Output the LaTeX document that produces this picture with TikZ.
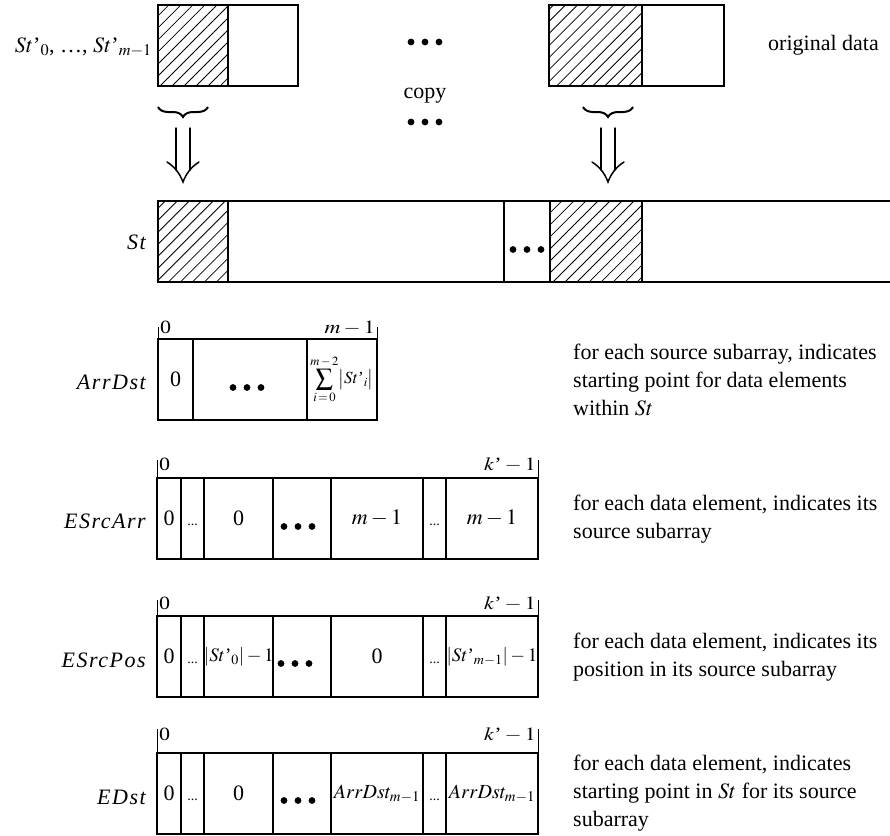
\documentclass[tikz,border=0pt]{standalone}
\usepackage{mathptmx}
\usepackage{fontspec}
\setmainfont{Liberation Serif}
\usepackage{graphicx}
\usetikzlibrary{patterns.meta,calc,decorations.pathreplacing}

% St followed by a text apostrophe, so a subscript sits after it
\newcommand{\stp}{St\mbox{'}}
% small ellipsis sitting on the baseline of the surrounding cell text
\newcommand{\celldots}{\vphantom{0}{\fontsize{14}{14}\selectfont...}}
% index labels above the arrays are set slightly squat
\newcommand{\idxtext}[1]{\scalebox{1}[0.85]{#1}}
% letter-spaced italic array names
\newcommand{\arrname}[1]{{\itshape\addfontfeature{LetterSpace=7}#1}}
% three large dots centred on a point
\newcommand{\bigdots}[1]{\foreach \dx in {-14,0,14} {\fill ($(#1)+(\dx,0)$) circle (3.4pt);}}
% a long double down-arrow between two coordinates
\newcommand{\downdouble}[2]{%
  \draw[arrowline] ($(#1)+(-7,0)$) -- ($(#2)+(-7,-12)$);
  \draw[arrowline] ($(#1)+(7,0)$) -- ($(#2)+(7,-12)$);
  \draw[arrowline] ($(#2)+(-16,-20)$) .. controls ($(#2)+(-8,-15)$) and ($(#2)+(-3,-8)$) .. (#2)
     .. controls ($(#2)+(3,-8)$) and ($(#2)+(8,-15)$) .. ($(#2)+(16,-20)$);}

\begin{document}
\begin{tikzpicture}[x=1pt,y=-1pt,
  every node/.style={font=\fontsize{22}{28}\selectfont},
  cell/.style={draw, line width=1.4pt, anchor=north west, minimum height=81pt,
    inner sep=0pt, outer sep=0pt, font=\fontsize{22}{24}\selectfont},
  hatched/.style={cell, pattern={Lines[angle=45,distance=8.5pt,line width=0.8pt]}},
  rowline/.style={line width=1.4pt},
  tag/.style={anchor=east, inner sep=0pt},
  note/.style={anchor=west, align=left, inner sep=0pt},
  idx/.style={inner sep=0pt, font=\fontsize{22}{22}\selectfont},
  tick/.style={line width=1pt},
  arrowline/.style={line width=1.5pt, line cap=round},
  underbr/.style={decorate, decoration={brace, amplitude=10pt}, line width=2pt},
]
\useasboundingbox (0,0) rectangle (890,835);

% ---- original data -------------------------------------------------
\node[hatched, minimum width=70pt] (o1h) at (158,5) {};
\node[cell, minimum width=70pt] (o1w) at (228,5) {};
\node[hatched, minimum width=93pt] (o2h) at (549,5) {};
\node[cell, minimum width=82pt] (o2w) at (642,5) {};
\node[tag] (lorig) at (152,47) {$\stp_{0}$, \ldots, $\stp_{m-1}$};
\node[note] (norig) at (768,45) {original data};
\coordinate (d1) at (425,42);
\bigdots{d1}
\node (copy) at (425,96) {copy};
\coordinate (d2) at (425,122);
\bigdots{d2}

% braces and copy arrows
\coordinate (bl1) at (208,107); \coordinate (bl2) at (158,107);
\coordinate (br1) at (633,107); \coordinate (br2) at (583,107);
\draw[underbr] (bl1) -- (bl2);
\draw[underbr] (br1) -- (br2);
\coordinate (al1) at (183,128); \coordinate (al2) at (183,182);
\coordinate (ar1) at (608,128); \coordinate (ar2) at (608,182);
\downdouble{al1}{al2}
\downdouble{ar1}{ar2}

% ---- St --------------------------------------------------------------
\node[hatched, minimum width=70pt] (s1) at (158,201) {};
\node[cell, minimum width=276pt] (s2) at (228,201) {};
\node[cell, minimum width=46pt] (s3) at (504,201) {};
\node[hatched, minimum width=92pt] (s4) at (550,201) {};
\coordinate (sendt) at (893,201);
\coordinate (sendb) at (893,282);
\draw[rowline] (s4.north east) -- (sendt);
\draw[rowline] (s4.south east) -- (sendb);
\coordinate (s3d) at ($(s3.center)+(0,8)$);
\bigdots{s3d}
\node[tag] (lst) at (146,242) {\arrname{St}};

% ---- ArrDst ------------------------------------------------------------
\node[cell, minimum width=35pt] (a1) at (158,339) {0};
\node[cell, minimum width=114pt] (a2) at (193,339) {};
\node[cell, minimum width=70pt, font=\fontsize{17}{20}\selectfont] (a3) at (307,339)
  {$\displaystyle\sum_{i\,=\,0}^{m\,-\,2}\bigl|\stp_{i}\bigr|$};
\coordinate (a2d) at ($(a2.center)+(-3,8)$);
\bigdots{a2d}
\draw[tick] (a1.north west) -- ++(0,-12);
\draw[tick] (a3.north east) -- ++(0,-12);
\node[idx, anchor=base west] (a0i) at ($(a1.north west)+(2,-6)$) {\idxtext{0}};
\node[idx, anchor=base east] (ani) at ($(a3.north east)+(-2,-6)$) {\idxtext{$m-1$}};
\node[tag] (larr) at (146,382) {\arrname{ArrDst}};
\node[note] (narr) at (573,380) {for each source subarray, indicates\\starting point for data elements\\within $St$};

% ---- ESrcArr -----------------------------------------------------------
\node[cell, minimum width=24pt] (e1) at (157,478) {0};
\node[cell, minimum width=23pt] (e2) at (181,478) {\celldots};
\node[cell, minimum width=69pt] (e3) at (204,478) {0};
\node[cell, minimum width=58pt] (e4) at (273,478) {};
\node[cell, minimum width=92pt] (e5) at (331,478) {$m-1$};
\node[cell, minimum width=23pt] (e6) at (423,478) {\celldots};
\node[cell, minimum width=92pt] (e7) at (446,478) {$m-1$};
\coordinate (e4d) at ($(e4.center)+(-4,8)$);
\bigdots{e4d}
\draw[tick] (e1.north west) -- ++(0,-18);
\draw[tick] (e7.north east) -- ++(0,-18);
\node[idx, anchor=base west] (e0i) at ($(e1.north west)+(2,-8)$) {\idxtext{0}};
\node[idx, anchor=base east] (eki) at ($(e7.north east)+(-2,-8)$) {\idxtext{$k\mbox{'}-1$}};
\node[tag] (lesa) at (146,521) {\arrname{ESrcArr}};
\node[note] (nesa) at (573,519) {for each data element, indicates its\\source subarray};

% ---- ESrcPos -----------------------------------------------------------
\node[cell, minimum width=24pt] (p1) at (157,616) {0};
\node[cell, minimum width=23pt] (p2) at (181,616) {\celldots};
\node[cell, minimum width=69pt, font=\fontsize{19}{22}\selectfont] (p3) at (204,616) {$|\stp_{0}|-1$};
\node[cell, minimum width=58pt] (p4) at (273,616) {};
\node[cell, minimum width=92pt] (p5) at (331,616) {0};
\node[cell, minimum width=23pt] (p6) at (423,616) {\celldots};
\node[cell, minimum width=92pt, font=\fontsize{19}{22}\selectfont] (p7) at (446,616) {$|\stp_{m-1}|-1$};
\coordinate (p4d) at ($(p4.center)+(-7,7)$);
\bigdots{p4d}
\draw[tick] (p1.north west) -- ++(0,-16);
\draw[tick] (p7.north east) -- ++(0,-16);
\node[idx, anchor=base west] (p0i) at ($(p1.north west)+(2,-7)$) {\idxtext{0}};
\node[idx, anchor=base east] (pki) at ($(p7.north east)+(-2,-7)$) {\idxtext{$k\mbox{'}-1$}};
\node[tag] (lesp) at (146,660) {\arrname{ESrcPos}};
\node[note] (nesp) at (573,657) {for each data element, indicates its\\position in its source subarray};

% ---- EDst --------------------------------------------------------------
\node[cell, minimum width=24pt] (q1) at (157,753) {0};
\node[cell, minimum width=23pt] (q2) at (181,753) {\celldots};
\node[cell, minimum width=69pt] (q3) at (204,753) {0};
\node[cell, minimum width=58pt] (q4) at (273,753) {};
\node[cell, minimum width=92pt, font=\fontsize{20}{22}\selectfont] (q5) at (331,753) {$ArrDst_{m-1}$};
\node[cell, minimum width=23pt] (q6) at (423,753) {\celldots};
\node[cell, minimum width=92pt, font=\fontsize{20}{22}\selectfont] (q7) at (446,753) {$ArrDst_{m-1}$};
\coordinate (q4d) at ($(q4.center)+(-4,7)$);
\bigdots{q4d}
\draw[tick] (q1.north west) -- ++(0,-24);
\draw[tick] (q7.north east) -- ++(0,-24);
\node[idx, anchor=base west] (q0i) at ($(q1.north west)+(2,-13)$) {\idxtext{0}};
\node[idx, anchor=base east] (qki) at ($(q7.north east)+(-2,-13)$) {\idxtext{$k\mbox{'}-1$}};
\node[tag] (ledst) at (146,797) {\arrname{EDst}};
\node[note] (nedst) at (573,793) {for each data element, indicates\\starting point in $St$ for its source\\subarray};
\end{tikzpicture}
\end{document}
